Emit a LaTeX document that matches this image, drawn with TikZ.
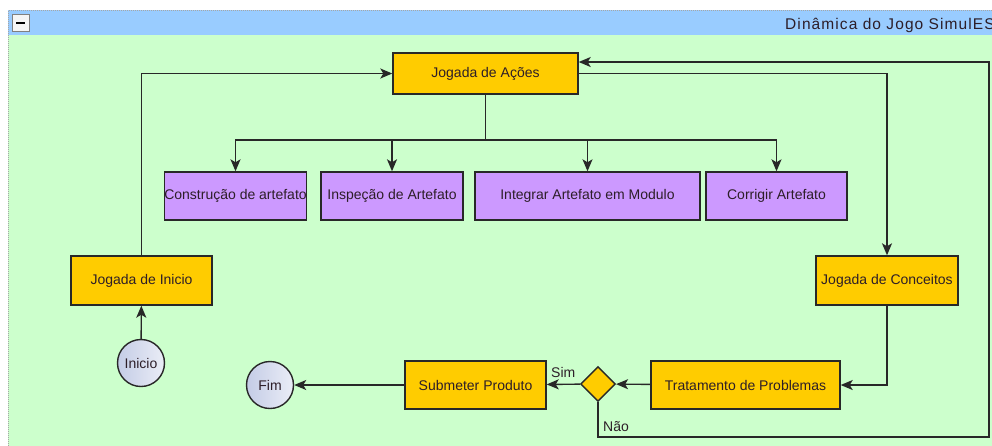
\documentclass[tikz,border=0pt]{standalone}
\usepackage{fontspec}
\setmainfont{Liberation Sans}
\newfontfamily\titlefont[LetterSpace=7]{Liberation Sans}
\usetikzlibrary{arrows.meta, shapes.geometric}
\definecolor{cBody}{RGB}{204,255,204}
\definecolor{cHead}{RGB}{153,204,255}
\definecolor{cOrange}{RGB}{255,204,0}
\definecolor{cPurple}{RGB}{204,153,255}
\definecolor{cCircle}{RGB}{196,204,230}
\definecolor{cLine}{RGB}{40,40,40}
\definecolor{cText}{RGB}{45,30,40}

\begin{document}
\begin{tikzpicture}[
  x=1pt, y=-1pt,
  >={Stealth[length=12pt, width=10pt, inset=3pt]},
  every node/.style={font=\fontsize{14}{16}\selectfont, text=cText},
  jogada/.style={draw=cLine, line width=1.4pt, fill=cOrange, minimum width=141pt,
                 minimum height=48pt, inner sep=0pt},
  acao/.style={draw=cLine, line width=1.4pt, fill=cPurple, minimum width=141pt,
               minimum height=48pt, inner sep=0pt},
  marco/.style={circle, draw=cLine, line width=1.4pt, left color=cCircle,
                right color=cCircle!35!white, minimum size=47pt, inner sep=0pt},
  arr/.style={->, draw=cLine, line width=1.4pt}
]

\useasboundingbox (0,0) rectangle (992,445);
\clip (0,0) rectangle (992,445);

%%=============================================================================
%% Frame: header band and body
%%=============================================================================
\fill[white] (0,0) rectangle (992,445);
\fill[cBody] (8,35) rectangle (1000,460);
\fill[cHead] (8,10) rectangle (1000,35);
\draw[gray!70, densely dotted, line width=1pt] (8.5,460) -- (8.5,10.5) -- (1000,10.5);

%% collapse button
\node[draw=gray, fill=gray!8, minimum size=17pt, inner sep=0pt] (botao) at (20.5,22.5) {};
\draw[line width=2pt, black] ([xshift=-4.5pt]botao.center) -- ([xshift=4.5pt]botao.center);

%% title (runs past the right edge)
\node[anchor=base west, inner sep=0pt, font=\titlefont\fontsize{15.5}{17}\selectfont]
  (titulo) at (785,29) {Dinâmica do Jogo SimulES};

%%=============================================================================
%% Nodes
%%=============================================================================
\node[jogada, minimum width=185pt, minimum height=41pt] (acoes) at (485.5,73.5) {Jogada de Ações};

\node[acao] (construcao) at (235.5,196) {Construção de artefato};
\node[acao, minimum width=142pt] (inspecao) at (392,196) {Inspeção de Artefato};
\node[acao, minimum width=225pt] (integrar) at (587.5,196) {Integrar Artefato em Modulo};
\node[acao] (corrigir) at (776.5,196) {Corrigir Artefato};

\node[jogada, minimum height=49pt] (inicioJ) at (141.5,280.5) {Jogada de Inicio};
\node[jogada, minimum width=142pt, minimum height=49pt] (conceitos) at (887,280.5) {Jogada de Conceitos};

\node[marco] (inicio) at (141,363) {Inicio};
\node[marco] (fim) at (270,385) {Fim};

\node[jogada] (submeter) at (475.5,385) {Submeter Produto};
\node[diamond, aspect=1, draw=cLine, line width=1.4pt, fill=cOrange,
      minimum width=35pt, minimum height=35pt, inner sep=0pt] (decisao) at (598,384) {};
\node[jogada, minimum width=189pt] (tratamento) at (745.5,385) {Tratamento de Problemas};

%% helper points
\coordinate (bus) at (485.5,140);
\coordinate (voltaA) at (989,437);
\coordinate (voltaB) at (989,62);

%%=============================================================================
%% Arrows
%%=============================================================================
\draw[arr] (inicio) -- (inicioJ);
\draw[arr] (inicioJ) |- (acoes);

% fan out to the action boxes
\draw[draw=cLine, line width=1.4pt] (acoes) -- (bus);
\draw[arr] (bus) -| (construcao);
\draw[arr] (bus) -| (inspecao);
\draw[arr] (bus) -| (integrar);
\draw[arr] (bus) -| (corrigir);

\draw[arr] (acoes) -| (conceitos);
\draw[arr] (conceitos) |- (tratamento);
\draw[arr] (tratamento) -- (decisao);
\draw[arr] (decisao) -- (submeter);
\draw[arr] (submeter) -- (fim);
\node[anchor=base west, inner sep=0pt] (sim) at (551,377) {Sim};

% "Nao" loops back to Jogada de Acoes
\draw[arr] (decisao.south) |- (voltaA) -- (voltaB) -- (acoes.east |- voltaB);
\node[anchor=base west, inner sep=0pt] (nao) at (603,431) {Não};

\end{tikzpicture}
\end{document}
